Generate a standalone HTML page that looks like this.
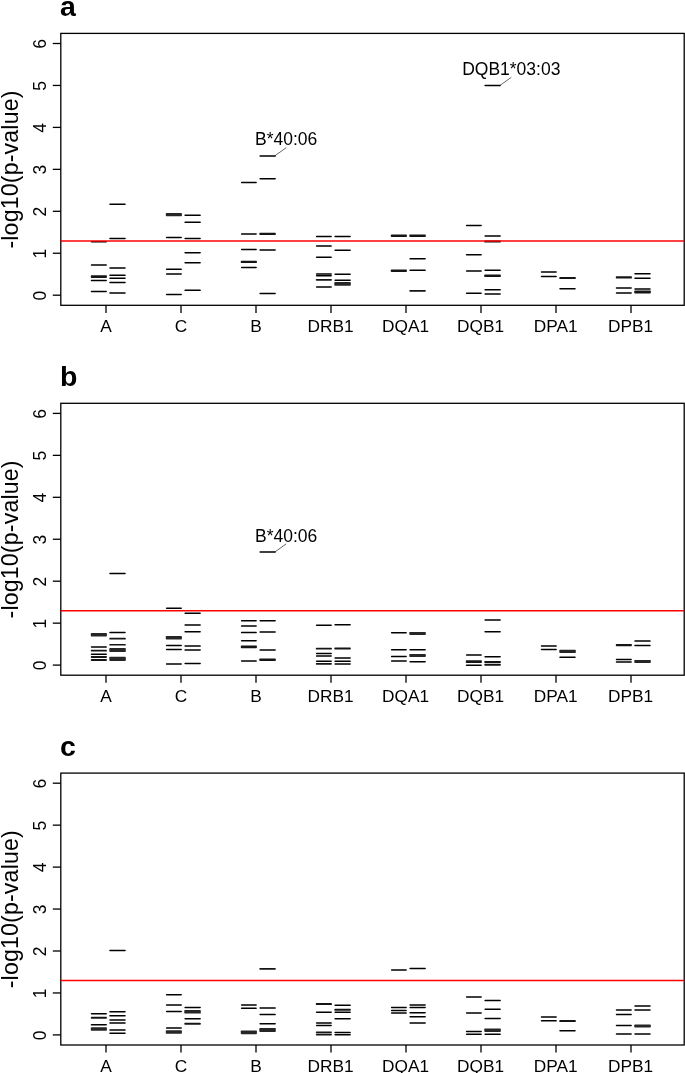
<!DOCTYPE html>
<html><head><meta charset="utf-8"><title>Figure</title>
<style>html,body{margin:0;padding:0;background:#fff;font-family:"Liberation Sans",sans-serif;}svg{display:block;will-change:transform}</style></head>
<body>
<svg width="685" height="1073" viewBox="0 0 685 1073">
<rect width="685" height="1073" fill="#fff"/>
<g>
<text x="60.0" y="15.9" font-family="Liberation Sans, sans-serif" font-size="28.5" font-weight="bold" fill="#000">a</text>
<rect x="60.8" y="33.4" width="623.4" height="271.9" fill="none" stroke="#000" stroke-width="1.3"/>
<line x1="52.8" y1="295.20" x2="60.8" y2="295.20" stroke="#000" stroke-width="1.3"/>
<text transform="translate(45.5,295.60) rotate(-90)" text-anchor="middle" font-family="Liberation Sans, sans-serif" font-size="17.5" fill="#000">0</text>
<line x1="52.8" y1="253.25" x2="60.8" y2="253.25" stroke="#000" stroke-width="1.3"/>
<text transform="translate(45.5,253.65) rotate(-90)" text-anchor="middle" font-family="Liberation Sans, sans-serif" font-size="17.5" fill="#000">1</text>
<line x1="52.8" y1="211.30" x2="60.8" y2="211.30" stroke="#000" stroke-width="1.3"/>
<text transform="translate(45.5,211.70) rotate(-90)" text-anchor="middle" font-family="Liberation Sans, sans-serif" font-size="17.5" fill="#000">2</text>
<line x1="52.8" y1="169.35" x2="60.8" y2="169.35" stroke="#000" stroke-width="1.3"/>
<text transform="translate(45.5,169.75) rotate(-90)" text-anchor="middle" font-family="Liberation Sans, sans-serif" font-size="17.5" fill="#000">3</text>
<line x1="52.8" y1="127.40" x2="60.8" y2="127.40" stroke="#000" stroke-width="1.3"/>
<text transform="translate(45.5,127.80) rotate(-90)" text-anchor="middle" font-family="Liberation Sans, sans-serif" font-size="17.5" fill="#000">4</text>
<line x1="52.8" y1="85.45" x2="60.8" y2="85.45" stroke="#000" stroke-width="1.3"/>
<text transform="translate(45.5,85.85) rotate(-90)" text-anchor="middle" font-family="Liberation Sans, sans-serif" font-size="17.5" fill="#000">5</text>
<line x1="52.8" y1="43.50" x2="60.8" y2="43.50" stroke="#000" stroke-width="1.3"/>
<text transform="translate(45.5,43.90) rotate(-90)" text-anchor="middle" font-family="Liberation Sans, sans-serif" font-size="17.5" fill="#000">6</text>
<text transform="translate(17.6,169.50) rotate(-90)" text-anchor="middle" font-family="Liberation Sans, sans-serif" font-size="23.2" letter-spacing="0.15" fill="#000">-log10(p-value)</text>
<line x1="106.0" y1="305.30" x2="106.0" y2="312.90" stroke="#000" stroke-width="1.3"/>
<text x="106.0" y="331.80" text-anchor="middle" font-family="Liberation Sans, sans-serif" font-size="17.3" fill="#000">A</text>
<line x1="181.0" y1="305.30" x2="181.0" y2="312.90" stroke="#000" stroke-width="1.3"/>
<text x="181.0" y="331.80" text-anchor="middle" font-family="Liberation Sans, sans-serif" font-size="17.3" fill="#000">C</text>
<line x1="256.0" y1="305.30" x2="256.0" y2="312.90" stroke="#000" stroke-width="1.3"/>
<text x="256.0" y="331.80" text-anchor="middle" font-family="Liberation Sans, sans-serif" font-size="17.3" fill="#000">B</text>
<line x1="331.0" y1="305.30" x2="331.0" y2="312.90" stroke="#000" stroke-width="1.3"/>
<text x="330.6" y="331.80" text-anchor="middle" font-family="Liberation Sans, sans-serif" font-size="17.3" fill="#000">DRB1</text>
<line x1="406.0" y1="305.30" x2="406.0" y2="312.90" stroke="#000" stroke-width="1.3"/>
<text x="405.6" y="331.80" text-anchor="middle" font-family="Liberation Sans, sans-serif" font-size="17.3" fill="#000">DQA1</text>
<line x1="481.0" y1="305.30" x2="481.0" y2="312.90" stroke="#000" stroke-width="1.3"/>
<text x="480.6" y="331.80" text-anchor="middle" font-family="Liberation Sans, sans-serif" font-size="17.3" fill="#000">DQB1</text>
<line x1="556.0" y1="305.30" x2="556.0" y2="312.90" stroke="#000" stroke-width="1.3"/>
<text x="555.6" y="331.80" text-anchor="middle" font-family="Liberation Sans, sans-serif" font-size="17.3" fill="#000">DPA1</text>
<line x1="631.0" y1="305.30" x2="631.0" y2="312.90" stroke="#000" stroke-width="1.3"/>
<text x="630.6" y="331.80" text-anchor="middle" font-family="Liberation Sans, sans-serif" font-size="17.3" fill="#000">DPB1</text>
<line x1="91.5" y1="241.70" x2="106.2" y2="241.70" stroke="#000" stroke-width="1.50" stroke-linecap="round"/>
<line x1="91.5" y1="264.90" x2="106.2" y2="264.90" stroke="#000" stroke-width="1.50" stroke-linecap="round"/>
<rect x="90.8" y="275.30" width="16.1" height="2.60" rx="0.7" fill="#151515"/>
<line x1="91.5" y1="280.40" x2="106.2" y2="280.40" stroke="#000" stroke-width="1.50" stroke-linecap="round"/>
<line x1="91.5" y1="291.40" x2="106.2" y2="291.40" stroke="#000" stroke-width="1.50" stroke-linecap="round"/>
<line x1="110.0" y1="204.20" x2="125.0" y2="204.20" stroke="#000" stroke-width="1.50" stroke-linecap="round"/>
<line x1="110.0" y1="238.40" x2="125.0" y2="238.40" stroke="#000" stroke-width="1.50" stroke-linecap="round"/>
<line x1="110.0" y1="268.00" x2="125.0" y2="268.00" stroke="#000" stroke-width="1.50" stroke-linecap="round"/>
<line x1="110.0" y1="275.20" x2="125.0" y2="275.20" stroke="#000" stroke-width="1.50" stroke-linecap="round"/>
<line x1="110.0" y1="278.20" x2="125.0" y2="278.20" stroke="#000" stroke-width="1.50" stroke-linecap="round"/>
<line x1="110.0" y1="282.40" x2="125.0" y2="282.40" stroke="#000" stroke-width="1.50" stroke-linecap="round"/>
<line x1="110.0" y1="292.90" x2="125.0" y2="292.90" stroke="#000" stroke-width="1.50" stroke-linecap="round"/>
<rect x="165.8" y="213.10" width="16.1" height="3.20" rx="0.7" fill="#262626"/>
<line x1="166.6" y1="237.50" x2="181.2" y2="237.50" stroke="#000" stroke-width="1.50" stroke-linecap="round"/>
<line x1="166.6" y1="269.30" x2="181.2" y2="269.30" stroke="#000" stroke-width="1.50" stroke-linecap="round"/>
<line x1="166.6" y1="273.90" x2="181.2" y2="273.90" stroke="#000" stroke-width="1.50" stroke-linecap="round"/>
<line x1="166.6" y1="294.40" x2="181.2" y2="294.40" stroke="#000" stroke-width="1.50" stroke-linecap="round"/>
<line x1="185.1" y1="215.20" x2="200.1" y2="215.20" stroke="#000" stroke-width="1.50" stroke-linecap="round"/>
<line x1="185.1" y1="222.20" x2="200.1" y2="222.20" stroke="#000" stroke-width="1.50" stroke-linecap="round"/>
<line x1="185.1" y1="238.40" x2="200.1" y2="238.40" stroke="#000" stroke-width="1.50" stroke-linecap="round"/>
<line x1="185.1" y1="252.80" x2="200.1" y2="252.80" stroke="#000" stroke-width="1.50" stroke-linecap="round"/>
<line x1="185.1" y1="262.70" x2="200.1" y2="262.70" stroke="#000" stroke-width="1.50" stroke-linecap="round"/>
<line x1="185.1" y1="290.30" x2="200.1" y2="290.30" stroke="#000" stroke-width="1.50" stroke-linecap="round"/>
<line x1="241.6" y1="182.60" x2="256.1" y2="182.60" stroke="#000" stroke-width="1.50" stroke-linecap="round"/>
<line x1="241.6" y1="234.10" x2="256.1" y2="234.10" stroke="#000" stroke-width="1.50" stroke-linecap="round"/>
<line x1="241.6" y1="249.40" x2="256.1" y2="249.40" stroke="#000" stroke-width="1.50" stroke-linecap="round"/>
<rect x="240.8" y="260.70" width="16.1" height="2.40" rx="0.7" fill="#151515"/>
<line x1="241.6" y1="267.40" x2="256.1" y2="267.40" stroke="#000" stroke-width="1.50" stroke-linecap="round"/>
<line x1="260.1" y1="155.90" x2="275.1" y2="155.90" stroke="#000" stroke-width="1.50" stroke-linecap="round"/>
<line x1="260.1" y1="178.70" x2="275.1" y2="178.70" stroke="#000" stroke-width="1.50" stroke-linecap="round"/>
<rect x="259.3" y="232.80" width="16.5" height="2.20" rx="0.7" fill="#151515"/>
<line x1="260.1" y1="250.10" x2="275.1" y2="250.10" stroke="#000" stroke-width="1.50" stroke-linecap="round"/>
<line x1="260.1" y1="293.60" x2="275.1" y2="293.60" stroke="#000" stroke-width="1.50" stroke-linecap="round"/>
<line x1="316.6" y1="236.60" x2="331.1" y2="236.60" stroke="#000" stroke-width="1.50" stroke-linecap="round"/>
<line x1="316.6" y1="246.00" x2="331.1" y2="246.00" stroke="#000" stroke-width="1.50" stroke-linecap="round"/>
<line x1="316.6" y1="257.20" x2="331.1" y2="257.20" stroke="#000" stroke-width="1.50" stroke-linecap="round"/>
<line x1="316.6" y1="274.10" x2="331.1" y2="274.10" stroke="#000" stroke-width="1.50" stroke-linecap="round"/>
<line x1="316.6" y1="275.80" x2="331.1" y2="275.80" stroke="#000" stroke-width="1.50" stroke-linecap="round"/>
<rect x="315.8" y="278.90" width="16.1" height="1.80" rx="0.7" fill="#151515"/>
<line x1="316.6" y1="286.90" x2="331.1" y2="286.90" stroke="#000" stroke-width="1.50" stroke-linecap="round"/>
<line x1="335.1" y1="236.60" x2="350.1" y2="236.60" stroke="#000" stroke-width="1.50" stroke-linecap="round"/>
<line x1="335.1" y1="250.30" x2="350.1" y2="250.30" stroke="#000" stroke-width="1.50" stroke-linecap="round"/>
<line x1="335.1" y1="274.20" x2="350.1" y2="274.20" stroke="#000" stroke-width="1.50" stroke-linecap="round"/>
<line x1="335.1" y1="280.20" x2="350.1" y2="280.20" stroke="#000" stroke-width="1.50" stroke-linecap="round"/>
<rect x="334.3" y="282.10" width="16.5" height="3.60" rx="0.7" fill="#262626"/>
<rect x="390.8" y="234.40" width="16.1" height="2.60" rx="0.7" fill="#151515"/>
<rect x="390.8" y="269.50" width="16.1" height="2.40" rx="0.7" fill="#151515"/>
<rect x="409.3" y="234.40" width="16.5" height="2.60" rx="0.7" fill="#151515"/>
<line x1="410.1" y1="258.70" x2="425.1" y2="258.70" stroke="#000" stroke-width="1.50" stroke-linecap="round"/>
<line x1="410.1" y1="270.30" x2="425.1" y2="270.30" stroke="#000" stroke-width="1.50" stroke-linecap="round"/>
<rect x="409.3" y="290.00" width="16.5" height="1.80" rx="0.7" fill="#151515"/>
<line x1="466.6" y1="225.60" x2="481.1" y2="225.60" stroke="#000" stroke-width="1.50" stroke-linecap="round"/>
<line x1="466.6" y1="254.70" x2="481.1" y2="254.70" stroke="#000" stroke-width="1.50" stroke-linecap="round"/>
<line x1="466.6" y1="270.90" x2="481.1" y2="270.90" stroke="#000" stroke-width="1.50" stroke-linecap="round"/>
<line x1="466.6" y1="293.30" x2="481.1" y2="293.30" stroke="#000" stroke-width="1.50" stroke-linecap="round"/>
<line x1="485.1" y1="85.50" x2="500.1" y2="85.50" stroke="#000" stroke-width="1.50" stroke-linecap="round"/>
<line x1="485.1" y1="235.90" x2="500.1" y2="235.90" stroke="#000" stroke-width="1.50" stroke-linecap="round"/>
<rect x="484.3" y="240.60" width="16.5" height="2.00" rx="0.7" fill="#151515"/>
<line x1="485.1" y1="270.30" x2="500.1" y2="270.30" stroke="#000" stroke-width="1.50" stroke-linecap="round"/>
<rect x="484.3" y="274.50" width="16.5" height="2.60" rx="0.7" fill="#151515"/>
<line x1="485.1" y1="289.80" x2="500.1" y2="289.80" stroke="#000" stroke-width="1.50" stroke-linecap="round"/>
<line x1="485.1" y1="293.90" x2="500.1" y2="293.90" stroke="#000" stroke-width="1.50" stroke-linecap="round"/>
<line x1="541.5" y1="271.90" x2="556.1" y2="271.90" stroke="#000" stroke-width="1.50" stroke-linecap="round"/>
<line x1="541.5" y1="276.50" x2="556.1" y2="276.50" stroke="#000" stroke-width="1.50" stroke-linecap="round"/>
<rect x="559.3" y="277.10" width="16.5" height="2.00" rx="0.7" fill="#151515"/>
<line x1="560.0" y1="288.80" x2="575.0" y2="288.80" stroke="#000" stroke-width="1.50" stroke-linecap="round"/>
<rect x="615.8" y="276.20" width="16.1" height="2.40" rx="0.7" fill="#151515"/>
<line x1="616.5" y1="288.00" x2="631.1" y2="288.00" stroke="#000" stroke-width="1.50" stroke-linecap="round"/>
<line x1="616.5" y1="292.90" x2="631.1" y2="292.90" stroke="#000" stroke-width="1.50" stroke-linecap="round"/>
<line x1="635.0" y1="273.80" x2="650.0" y2="273.80" stroke="#000" stroke-width="1.50" stroke-linecap="round"/>
<line x1="635.0" y1="278.30" x2="650.0" y2="278.30" stroke="#000" stroke-width="1.50" stroke-linecap="round"/>
<line x1="635.0" y1="288.90" x2="650.0" y2="288.90" stroke="#000" stroke-width="1.50" stroke-linecap="round"/>
<rect x="634.3" y="290.60" width="16.5" height="2.80" rx="0.7" fill="#151515"/>
<line x1="60.8" y1="240.90" x2="684.2" y2="240.90" stroke="#f00" stroke-width="1.5"/>
</g>
<g>
<text x="60.0" y="385.8" font-family="Liberation Sans, sans-serif" font-size="28.5" font-weight="bold" fill="#000">b</text>
<rect x="60.8" y="403.3" width="623.4" height="271.9" fill="none" stroke="#000" stroke-width="1.3"/>
<line x1="52.8" y1="665.10" x2="60.8" y2="665.10" stroke="#000" stroke-width="1.3"/>
<text transform="translate(45.5,665.50) rotate(-90)" text-anchor="middle" font-family="Liberation Sans, sans-serif" font-size="17.5" fill="#000">0</text>
<line x1="52.8" y1="623.15" x2="60.8" y2="623.15" stroke="#000" stroke-width="1.3"/>
<text transform="translate(45.5,623.55) rotate(-90)" text-anchor="middle" font-family="Liberation Sans, sans-serif" font-size="17.5" fill="#000">1</text>
<line x1="52.8" y1="581.20" x2="60.8" y2="581.20" stroke="#000" stroke-width="1.3"/>
<text transform="translate(45.5,581.60) rotate(-90)" text-anchor="middle" font-family="Liberation Sans, sans-serif" font-size="17.5" fill="#000">2</text>
<line x1="52.8" y1="539.25" x2="60.8" y2="539.25" stroke="#000" stroke-width="1.3"/>
<text transform="translate(45.5,539.65) rotate(-90)" text-anchor="middle" font-family="Liberation Sans, sans-serif" font-size="17.5" fill="#000">3</text>
<line x1="52.8" y1="497.30" x2="60.8" y2="497.30" stroke="#000" stroke-width="1.3"/>
<text transform="translate(45.5,497.70) rotate(-90)" text-anchor="middle" font-family="Liberation Sans, sans-serif" font-size="17.5" fill="#000">4</text>
<line x1="52.8" y1="455.35" x2="60.8" y2="455.35" stroke="#000" stroke-width="1.3"/>
<text transform="translate(45.5,455.75) rotate(-90)" text-anchor="middle" font-family="Liberation Sans, sans-serif" font-size="17.5" fill="#000">5</text>
<line x1="52.8" y1="413.40" x2="60.8" y2="413.40" stroke="#000" stroke-width="1.3"/>
<text transform="translate(45.5,413.80) rotate(-90)" text-anchor="middle" font-family="Liberation Sans, sans-serif" font-size="17.5" fill="#000">6</text>
<text transform="translate(17.6,539.40) rotate(-90)" text-anchor="middle" font-family="Liberation Sans, sans-serif" font-size="23.2" letter-spacing="0.15" fill="#000">-log10(p-value)</text>
<line x1="106.0" y1="675.20" x2="106.0" y2="682.80" stroke="#000" stroke-width="1.3"/>
<text x="106.0" y="701.70" text-anchor="middle" font-family="Liberation Sans, sans-serif" font-size="17.3" fill="#000">A</text>
<line x1="181.0" y1="675.20" x2="181.0" y2="682.80" stroke="#000" stroke-width="1.3"/>
<text x="181.0" y="701.70" text-anchor="middle" font-family="Liberation Sans, sans-serif" font-size="17.3" fill="#000">C</text>
<line x1="256.0" y1="675.20" x2="256.0" y2="682.80" stroke="#000" stroke-width="1.3"/>
<text x="256.0" y="701.70" text-anchor="middle" font-family="Liberation Sans, sans-serif" font-size="17.3" fill="#000">B</text>
<line x1="331.0" y1="675.20" x2="331.0" y2="682.80" stroke="#000" stroke-width="1.3"/>
<text x="330.6" y="701.70" text-anchor="middle" font-family="Liberation Sans, sans-serif" font-size="17.3" fill="#000">DRB1</text>
<line x1="406.0" y1="675.20" x2="406.0" y2="682.80" stroke="#000" stroke-width="1.3"/>
<text x="405.6" y="701.70" text-anchor="middle" font-family="Liberation Sans, sans-serif" font-size="17.3" fill="#000">DQA1</text>
<line x1="481.0" y1="675.20" x2="481.0" y2="682.80" stroke="#000" stroke-width="1.3"/>
<text x="480.6" y="701.70" text-anchor="middle" font-family="Liberation Sans, sans-serif" font-size="17.3" fill="#000">DQB1</text>
<line x1="556.0" y1="675.20" x2="556.0" y2="682.80" stroke="#000" stroke-width="1.3"/>
<text x="555.6" y="701.70" text-anchor="middle" font-family="Liberation Sans, sans-serif" font-size="17.3" fill="#000">DPA1</text>
<line x1="631.0" y1="675.20" x2="631.0" y2="682.80" stroke="#000" stroke-width="1.3"/>
<text x="630.6" y="701.70" text-anchor="middle" font-family="Liberation Sans, sans-serif" font-size="17.3" fill="#000">DPB1</text>
<rect x="90.8" y="633.00" width="16.1" height="3.50" rx="0.7" fill="#262626"/>
<line x1="91.5" y1="647.10" x2="106.2" y2="647.10" stroke="#000" stroke-width="1.50" stroke-linecap="round"/>
<rect x="90.8" y="649.80" width="16.1" height="1.80" rx="0.7" fill="#151515"/>
<line x1="91.5" y1="654.30" x2="106.2" y2="654.30" stroke="#000" stroke-width="1.50" stroke-linecap="round"/>
<rect x="90.8" y="656.10" width="16.1" height="1.80" rx="0.7" fill="#151515"/>
<rect x="90.8" y="658.90" width="16.1" height="2.00" rx="0.7" fill="#151515"/>
<line x1="110.0" y1="573.60" x2="125.0" y2="573.60" stroke="#000" stroke-width="1.50" stroke-linecap="round"/>
<line x1="110.0" y1="632.40" x2="125.0" y2="632.40" stroke="#000" stroke-width="1.50" stroke-linecap="round"/>
<rect x="109.3" y="637.80" width="16.5" height="1.80" rx="0.7" fill="#151515"/>
<rect x="109.3" y="644.00" width="16.5" height="1.60" rx="0.7" fill="#151515"/>
<rect x="109.3" y="648.00" width="16.5" height="4.00" rx="0.7" fill="#262626"/>
<rect x="109.3" y="656.80" width="16.5" height="4.10" rx="0.7" fill="#262626"/>
<line x1="166.6" y1="608.20" x2="181.2" y2="608.20" stroke="#000" stroke-width="1.50" stroke-linecap="round"/>
<rect x="165.8" y="635.90" width="16.1" height="3.60" rx="0.7" fill="#262626"/>
<line x1="166.6" y1="645.40" x2="181.2" y2="645.40" stroke="#000" stroke-width="1.50" stroke-linecap="round"/>
<line x1="166.6" y1="649.60" x2="181.2" y2="649.60" stroke="#000" stroke-width="1.50" stroke-linecap="round"/>
<line x1="166.6" y1="664.00" x2="181.2" y2="664.00" stroke="#000" stroke-width="1.50" stroke-linecap="round"/>
<line x1="185.1" y1="613.20" x2="200.1" y2="613.20" stroke="#000" stroke-width="1.50" stroke-linecap="round"/>
<line x1="185.1" y1="625.00" x2="200.1" y2="625.00" stroke="#000" stroke-width="1.50" stroke-linecap="round"/>
<line x1="185.1" y1="631.80" x2="200.1" y2="631.80" stroke="#000" stroke-width="1.50" stroke-linecap="round"/>
<line x1="185.1" y1="646.10" x2="200.1" y2="646.10" stroke="#000" stroke-width="1.50" stroke-linecap="round"/>
<line x1="185.1" y1="650.00" x2="200.1" y2="650.00" stroke="#000" stroke-width="1.50" stroke-linecap="round"/>
<line x1="185.1" y1="663.60" x2="200.1" y2="663.60" stroke="#000" stroke-width="1.50" stroke-linecap="round"/>
<line x1="241.6" y1="620.80" x2="256.1" y2="620.80" stroke="#000" stroke-width="1.50" stroke-linecap="round"/>
<line x1="241.6" y1="625.90" x2="256.1" y2="625.90" stroke="#000" stroke-width="1.50" stroke-linecap="round"/>
<line x1="241.6" y1="632.40" x2="256.1" y2="632.40" stroke="#000" stroke-width="1.50" stroke-linecap="round"/>
<line x1="241.6" y1="640.80" x2="256.1" y2="640.80" stroke="#000" stroke-width="1.50" stroke-linecap="round"/>
<rect x="240.8" y="645.40" width="16.1" height="2.80" rx="0.7" fill="#151515"/>
<line x1="241.6" y1="660.90" x2="256.1" y2="660.90" stroke="#000" stroke-width="1.50" stroke-linecap="round"/>
<line x1="260.1" y1="552.10" x2="275.1" y2="552.10" stroke="#000" stroke-width="1.50" stroke-linecap="round"/>
<line x1="260.1" y1="620.80" x2="275.1" y2="620.80" stroke="#000" stroke-width="1.50" stroke-linecap="round"/>
<line x1="260.1" y1="632.00" x2="275.1" y2="632.00" stroke="#000" stroke-width="1.50" stroke-linecap="round"/>
<line x1="260.1" y1="650.00" x2="275.1" y2="650.00" stroke="#000" stroke-width="1.50" stroke-linecap="round"/>
<rect x="259.3" y="658.45" width="16.5" height="2.50" rx="0.7" fill="#151515"/>
<line x1="316.6" y1="625.20" x2="331.1" y2="625.20" stroke="#000" stroke-width="1.50" stroke-linecap="round"/>
<rect x="315.8" y="647.80" width="16.1" height="1.80" rx="0.7" fill="#151515"/>
<line x1="316.6" y1="653.60" x2="331.1" y2="653.60" stroke="#000" stroke-width="1.50" stroke-linecap="round"/>
<line x1="316.6" y1="656.10" x2="331.1" y2="656.10" stroke="#000" stroke-width="1.50" stroke-linecap="round"/>
<line x1="316.6" y1="661.20" x2="331.1" y2="661.20" stroke="#000" stroke-width="1.50" stroke-linecap="round"/>
<rect x="315.8" y="663.10" width="16.1" height="1.60" rx="0.7" fill="#151515"/>
<line x1="335.1" y1="624.80" x2="350.1" y2="624.80" stroke="#000" stroke-width="1.50" stroke-linecap="round"/>
<rect x="334.3" y="647.60" width="16.5" height="1.80" rx="0.7" fill="#151515"/>
<line x1="335.1" y1="657.90" x2="350.1" y2="657.90" stroke="#000" stroke-width="1.50" stroke-linecap="round"/>
<line x1="335.1" y1="661.20" x2="350.1" y2="661.20" stroke="#000" stroke-width="1.50" stroke-linecap="round"/>
<line x1="335.1" y1="663.90" x2="350.1" y2="663.90" stroke="#000" stroke-width="1.50" stroke-linecap="round"/>
<line x1="391.6" y1="632.80" x2="406.1" y2="632.80" stroke="#000" stroke-width="1.50" stroke-linecap="round"/>
<line x1="391.6" y1="649.70" x2="406.1" y2="649.70" stroke="#000" stroke-width="1.50" stroke-linecap="round"/>
<line x1="391.6" y1="656.40" x2="406.1" y2="656.40" stroke="#000" stroke-width="1.50" stroke-linecap="round"/>
<line x1="391.6" y1="660.90" x2="406.1" y2="660.90" stroke="#000" stroke-width="1.50" stroke-linecap="round"/>
<rect x="409.3" y="631.90" width="16.5" height="3.00" rx="0.7" fill="#262626"/>
<line x1="410.1" y1="649.70" x2="425.1" y2="649.70" stroke="#000" stroke-width="1.50" stroke-linecap="round"/>
<rect x="409.3" y="653.90" width="16.5" height="3.00" rx="0.7" fill="#262626"/>
<line x1="410.1" y1="661.70" x2="425.1" y2="661.70" stroke="#000" stroke-width="1.50" stroke-linecap="round"/>
<line x1="466.6" y1="655.00" x2="481.1" y2="655.00" stroke="#000" stroke-width="1.50" stroke-linecap="round"/>
<rect x="465.8" y="660.20" width="16.1" height="2.80" rx="0.7" fill="#151515"/>
<line x1="466.6" y1="665.30" x2="481.1" y2="665.30" stroke="#000" stroke-width="1.50" stroke-linecap="round"/>
<line x1="485.1" y1="619.90" x2="500.1" y2="619.90" stroke="#000" stroke-width="1.50" stroke-linecap="round"/>
<line x1="485.1" y1="631.70" x2="500.1" y2="631.70" stroke="#000" stroke-width="1.50" stroke-linecap="round"/>
<line x1="485.1" y1="656.70" x2="500.1" y2="656.70" stroke="#000" stroke-width="1.50" stroke-linecap="round"/>
<rect x="484.3" y="660.90" width="16.5" height="2.20" rx="0.7" fill="#151515"/>
<rect x="484.3" y="663.70" width="16.5" height="2.00" rx="0.7" fill="#151515"/>
<line x1="541.5" y1="646.00" x2="556.1" y2="646.00" stroke="#000" stroke-width="1.50" stroke-linecap="round"/>
<line x1="541.5" y1="649.60" x2="556.1" y2="649.60" stroke="#000" stroke-width="1.50" stroke-linecap="round"/>
<rect x="559.3" y="649.80" width="16.5" height="3.20" rx="0.7" fill="#262626"/>
<line x1="560.0" y1="657.20" x2="575.0" y2="657.20" stroke="#000" stroke-width="1.50" stroke-linecap="round"/>
<rect x="615.8" y="644.00" width="16.1" height="2.20" rx="0.7" fill="#151515"/>
<line x1="616.5" y1="659.50" x2="631.1" y2="659.50" stroke="#000" stroke-width="1.50" stroke-linecap="round"/>
<line x1="616.5" y1="662.00" x2="631.1" y2="662.00" stroke="#000" stroke-width="1.50" stroke-linecap="round"/>
<line x1="635.0" y1="640.90" x2="650.0" y2="640.90" stroke="#000" stroke-width="1.50" stroke-linecap="round"/>
<line x1="635.0" y1="645.50" x2="650.0" y2="645.50" stroke="#000" stroke-width="1.50" stroke-linecap="round"/>
<rect x="634.3" y="659.90" width="16.5" height="3.00" rx="0.7" fill="#262626"/>
<line x1="60.8" y1="610.80" x2="684.2" y2="610.80" stroke="#f00" stroke-width="1.5"/>
</g>
<g>
<text x="60.0" y="755.6" font-family="Liberation Sans, sans-serif" font-size="28.5" font-weight="bold" fill="#000">c</text>
<rect x="60.8" y="773.1" width="623.4" height="271.9" fill="none" stroke="#000" stroke-width="1.3"/>
<line x1="52.8" y1="1034.90" x2="60.8" y2="1034.90" stroke="#000" stroke-width="1.3"/>
<text transform="translate(45.5,1035.30) rotate(-90)" text-anchor="middle" font-family="Liberation Sans, sans-serif" font-size="17.5" fill="#000">0</text>
<line x1="52.8" y1="992.95" x2="60.8" y2="992.95" stroke="#000" stroke-width="1.3"/>
<text transform="translate(45.5,993.35) rotate(-90)" text-anchor="middle" font-family="Liberation Sans, sans-serif" font-size="17.5" fill="#000">1</text>
<line x1="52.8" y1="951.00" x2="60.8" y2="951.00" stroke="#000" stroke-width="1.3"/>
<text transform="translate(45.5,951.40) rotate(-90)" text-anchor="middle" font-family="Liberation Sans, sans-serif" font-size="17.5" fill="#000">2</text>
<line x1="52.8" y1="909.05" x2="60.8" y2="909.05" stroke="#000" stroke-width="1.3"/>
<text transform="translate(45.5,909.45) rotate(-90)" text-anchor="middle" font-family="Liberation Sans, sans-serif" font-size="17.5" fill="#000">3</text>
<line x1="52.8" y1="867.10" x2="60.8" y2="867.10" stroke="#000" stroke-width="1.3"/>
<text transform="translate(45.5,867.50) rotate(-90)" text-anchor="middle" font-family="Liberation Sans, sans-serif" font-size="17.5" fill="#000">4</text>
<line x1="52.8" y1="825.15" x2="60.8" y2="825.15" stroke="#000" stroke-width="1.3"/>
<text transform="translate(45.5,825.55) rotate(-90)" text-anchor="middle" font-family="Liberation Sans, sans-serif" font-size="17.5" fill="#000">5</text>
<line x1="52.8" y1="783.20" x2="60.8" y2="783.20" stroke="#000" stroke-width="1.3"/>
<text transform="translate(45.5,783.60) rotate(-90)" text-anchor="middle" font-family="Liberation Sans, sans-serif" font-size="17.5" fill="#000">6</text>
<text transform="translate(17.6,909.20) rotate(-90)" text-anchor="middle" font-family="Liberation Sans, sans-serif" font-size="23.2" letter-spacing="0.15" fill="#000">-log10(p-value)</text>
<line x1="106.0" y1="1045.00" x2="106.0" y2="1052.60" stroke="#000" stroke-width="1.3"/>
<text x="106.0" y="1071.50" text-anchor="middle" font-family="Liberation Sans, sans-serif" font-size="17.3" fill="#000">A</text>
<line x1="181.0" y1="1045.00" x2="181.0" y2="1052.60" stroke="#000" stroke-width="1.3"/>
<text x="181.0" y="1071.50" text-anchor="middle" font-family="Liberation Sans, sans-serif" font-size="17.3" fill="#000">C</text>
<line x1="256.0" y1="1045.00" x2="256.0" y2="1052.60" stroke="#000" stroke-width="1.3"/>
<text x="256.0" y="1071.50" text-anchor="middle" font-family="Liberation Sans, sans-serif" font-size="17.3" fill="#000">B</text>
<line x1="331.0" y1="1045.00" x2="331.0" y2="1052.60" stroke="#000" stroke-width="1.3"/>
<text x="330.6" y="1071.50" text-anchor="middle" font-family="Liberation Sans, sans-serif" font-size="17.3" fill="#000">DRB1</text>
<line x1="406.0" y1="1045.00" x2="406.0" y2="1052.60" stroke="#000" stroke-width="1.3"/>
<text x="405.6" y="1071.50" text-anchor="middle" font-family="Liberation Sans, sans-serif" font-size="17.3" fill="#000">DQA1</text>
<line x1="481.0" y1="1045.00" x2="481.0" y2="1052.60" stroke="#000" stroke-width="1.3"/>
<text x="480.6" y="1071.50" text-anchor="middle" font-family="Liberation Sans, sans-serif" font-size="17.3" fill="#000">DQB1</text>
<line x1="556.0" y1="1045.00" x2="556.0" y2="1052.60" stroke="#000" stroke-width="1.3"/>
<text x="555.6" y="1071.50" text-anchor="middle" font-family="Liberation Sans, sans-serif" font-size="17.3" fill="#000">DPA1</text>
<line x1="631.0" y1="1045.00" x2="631.0" y2="1052.60" stroke="#000" stroke-width="1.3"/>
<text x="630.6" y="1071.50" text-anchor="middle" font-family="Liberation Sans, sans-serif" font-size="17.3" fill="#000">DPB1</text>
<line x1="91.5" y1="1013.80" x2="106.2" y2="1013.80" stroke="#000" stroke-width="1.50" stroke-linecap="round"/>
<rect x="90.8" y="1016.80" width="16.1" height="2.00" rx="0.7" fill="#151515"/>
<line x1="91.5" y1="1024.70" x2="106.2" y2="1024.70" stroke="#000" stroke-width="1.50" stroke-linecap="round"/>
<rect x="90.8" y="1027.20" width="16.1" height="3.60" rx="0.7" fill="#262626"/>
<line x1="110.0" y1="950.40" x2="125.0" y2="950.40" stroke="#000" stroke-width="1.50" stroke-linecap="round"/>
<line x1="110.0" y1="1011.80" x2="125.0" y2="1011.80" stroke="#000" stroke-width="1.50" stroke-linecap="round"/>
<line x1="110.0" y1="1015.70" x2="125.0" y2="1015.70" stroke="#000" stroke-width="1.50" stroke-linecap="round"/>
<line x1="110.0" y1="1019.90" x2="125.0" y2="1019.90" stroke="#000" stroke-width="1.50" stroke-linecap="round"/>
<line x1="110.0" y1="1023.00" x2="125.0" y2="1023.00" stroke="#000" stroke-width="1.50" stroke-linecap="round"/>
<line x1="110.0" y1="1030.00" x2="125.0" y2="1030.00" stroke="#000" stroke-width="1.50" stroke-linecap="round"/>
<line x1="110.0" y1="1033.20" x2="125.0" y2="1033.20" stroke="#000" stroke-width="1.50" stroke-linecap="round"/>
<line x1="166.6" y1="994.70" x2="181.2" y2="994.70" stroke="#000" stroke-width="1.50" stroke-linecap="round"/>
<line x1="166.6" y1="1004.90" x2="181.2" y2="1004.90" stroke="#000" stroke-width="1.50" stroke-linecap="round"/>
<line x1="166.6" y1="1011.60" x2="181.2" y2="1011.60" stroke="#000" stroke-width="1.50" stroke-linecap="round"/>
<line x1="166.6" y1="1027.90" x2="181.2" y2="1027.90" stroke="#000" stroke-width="1.50" stroke-linecap="round"/>
<rect x="165.8" y="1030.20" width="16.1" height="3.60" rx="0.7" fill="#262626"/>
<line x1="185.1" y1="1007.40" x2="200.1" y2="1007.40" stroke="#000" stroke-width="1.50" stroke-linecap="round"/>
<rect x="184.3" y="1010.00" width="16.5" height="3.60" rx="0.7" fill="#262626"/>
<line x1="185.1" y1="1018.80" x2="200.1" y2="1018.80" stroke="#000" stroke-width="1.50" stroke-linecap="round"/>
<rect x="184.3" y="1022.70" width="16.5" height="2.00" rx="0.7" fill="#151515"/>
<line x1="241.6" y1="1005.10" x2="256.1" y2="1005.10" stroke="#000" stroke-width="1.50" stroke-linecap="round"/>
<line x1="241.6" y1="1008.30" x2="256.1" y2="1008.30" stroke="#000" stroke-width="1.50" stroke-linecap="round"/>
<rect x="240.8" y="1030.50" width="16.1" height="3.80" rx="0.7" fill="#262626"/>
<rect x="259.3" y="968.10" width="16.5" height="1.60" rx="0.7" fill="#151515"/>
<line x1="260.1" y1="1008.10" x2="275.1" y2="1008.10" stroke="#000" stroke-width="1.50" stroke-linecap="round"/>
<line x1="260.1" y1="1014.60" x2="275.1" y2="1014.60" stroke="#000" stroke-width="1.50" stroke-linecap="round"/>
<line x1="260.1" y1="1023.70" x2="275.1" y2="1023.70" stroke="#000" stroke-width="1.50" stroke-linecap="round"/>
<rect x="259.3" y="1028.10" width="16.5" height="3.80" rx="0.7" fill="#262626"/>
<rect x="315.8" y="1003.10" width="16.1" height="2.00" rx="0.7" fill="#151515"/>
<line x1="316.6" y1="1012.30" x2="331.1" y2="1012.30" stroke="#000" stroke-width="1.50" stroke-linecap="round"/>
<line x1="316.6" y1="1023.10" x2="331.1" y2="1023.10" stroke="#000" stroke-width="1.50" stroke-linecap="round"/>
<line x1="316.6" y1="1025.60" x2="331.1" y2="1025.60" stroke="#000" stroke-width="1.50" stroke-linecap="round"/>
<rect x="315.8" y="1031.50" width="16.1" height="1.80" rx="0.7" fill="#151515"/>
<rect x="315.8" y="1033.70" width="16.1" height="1.80" rx="0.7" fill="#151515"/>
<line x1="335.1" y1="1005.30" x2="350.1" y2="1005.30" stroke="#000" stroke-width="1.50" stroke-linecap="round"/>
<rect x="334.3" y="1008.80" width="16.5" height="2.00" rx="0.7" fill="#151515"/>
<line x1="335.1" y1="1012.30" x2="350.1" y2="1012.30" stroke="#000" stroke-width="1.50" stroke-linecap="round"/>
<line x1="335.1" y1="1018.80" x2="350.1" y2="1018.80" stroke="#000" stroke-width="1.50" stroke-linecap="round"/>
<line x1="335.1" y1="1032.40" x2="350.1" y2="1032.40" stroke="#000" stroke-width="1.50" stroke-linecap="round"/>
<line x1="335.1" y1="1034.70" x2="350.1" y2="1034.70" stroke="#000" stroke-width="1.50" stroke-linecap="round"/>
<line x1="391.6" y1="970.00" x2="406.1" y2="970.00" stroke="#000" stroke-width="1.50" stroke-linecap="round"/>
<line x1="391.6" y1="1007.60" x2="406.1" y2="1007.60" stroke="#000" stroke-width="1.50" stroke-linecap="round"/>
<line x1="391.6" y1="1010.40" x2="406.1" y2="1010.40" stroke="#000" stroke-width="1.50" stroke-linecap="round"/>
<line x1="391.6" y1="1012.90" x2="406.1" y2="1012.90" stroke="#000" stroke-width="1.50" stroke-linecap="round"/>
<line x1="410.1" y1="968.50" x2="425.1" y2="968.50" stroke="#000" stroke-width="1.50" stroke-linecap="round"/>
<line x1="410.1" y1="1005.10" x2="425.1" y2="1005.10" stroke="#000" stroke-width="1.50" stroke-linecap="round"/>
<line x1="410.1" y1="1007.60" x2="425.1" y2="1007.60" stroke="#000" stroke-width="1.50" stroke-linecap="round"/>
<line x1="410.1" y1="1012.70" x2="425.1" y2="1012.70" stroke="#000" stroke-width="1.50" stroke-linecap="round"/>
<line x1="410.1" y1="1016.70" x2="425.1" y2="1016.70" stroke="#000" stroke-width="1.50" stroke-linecap="round"/>
<line x1="410.1" y1="1022.90" x2="425.1" y2="1022.90" stroke="#000" stroke-width="1.50" stroke-linecap="round"/>
<line x1="466.6" y1="997.10" x2="481.1" y2="997.10" stroke="#000" stroke-width="1.50" stroke-linecap="round"/>
<line x1="466.6" y1="1013.10" x2="481.1" y2="1013.10" stroke="#000" stroke-width="1.50" stroke-linecap="round"/>
<line x1="466.6" y1="1031.50" x2="481.1" y2="1031.50" stroke="#000" stroke-width="1.50" stroke-linecap="round"/>
<line x1="466.6" y1="1034.30" x2="481.1" y2="1034.30" stroke="#000" stroke-width="1.50" stroke-linecap="round"/>
<line x1="485.1" y1="1000.50" x2="500.1" y2="1000.50" stroke="#000" stroke-width="1.50" stroke-linecap="round"/>
<line x1="485.1" y1="1009.30" x2="500.1" y2="1009.30" stroke="#000" stroke-width="1.50" stroke-linecap="round"/>
<line x1="485.1" y1="1018.40" x2="500.1" y2="1018.40" stroke="#000" stroke-width="1.50" stroke-linecap="round"/>
<rect x="484.3" y="1028.60" width="16.5" height="3.40" rx="0.7" fill="#262626"/>
<line x1="485.1" y1="1034.30" x2="500.1" y2="1034.30" stroke="#000" stroke-width="1.50" stroke-linecap="round"/>
<line x1="541.5" y1="1016.90" x2="556.1" y2="1016.90" stroke="#000" stroke-width="1.50" stroke-linecap="round"/>
<line x1="541.5" y1="1020.70" x2="556.1" y2="1020.70" stroke="#000" stroke-width="1.50" stroke-linecap="round"/>
<rect x="559.3" y="1020.10" width="16.5" height="2.00" rx="0.7" fill="#151515"/>
<line x1="560.0" y1="1030.70" x2="575.0" y2="1030.70" stroke="#000" stroke-width="1.50" stroke-linecap="round"/>
<line x1="616.5" y1="1009.90" x2="631.1" y2="1009.90" stroke="#000" stroke-width="1.50" stroke-linecap="round"/>
<line x1="616.5" y1="1014.40" x2="631.1" y2="1014.40" stroke="#000" stroke-width="1.50" stroke-linecap="round"/>
<line x1="616.5" y1="1025.40" x2="631.1" y2="1025.40" stroke="#000" stroke-width="1.50" stroke-linecap="round"/>
<line x1="616.5" y1="1034.00" x2="631.1" y2="1034.00" stroke="#000" stroke-width="1.50" stroke-linecap="round"/>
<line x1="635.0" y1="1005.90" x2="650.0" y2="1005.90" stroke="#000" stroke-width="1.50" stroke-linecap="round"/>
<line x1="635.0" y1="1009.90" x2="650.0" y2="1009.90" stroke="#000" stroke-width="1.50" stroke-linecap="round"/>
<rect x="634.3" y="1024.50" width="16.5" height="3.00" rx="0.7" fill="#262626"/>
<line x1="635.0" y1="1034.00" x2="650.0" y2="1034.00" stroke="#000" stroke-width="1.50" stroke-linecap="round"/>
<line x1="60.8" y1="980.60" x2="684.2" y2="980.60" stroke="#f00" stroke-width="1.5"/>
</g>
<line x1="274.7" y1="155.90" x2="286.2" y2="147.70" stroke="#000" stroke-width="0.6"/>
<text x="286.2" y="145.40" text-anchor="middle" font-family="Liberation Sans, sans-serif" font-size="17.5" fill="#000">B*40:06</text>
<line x1="499.8" y1="85.50" x2="511.3" y2="77.30" stroke="#000" stroke-width="0.6"/>
<text x="511.3" y="75.00" text-anchor="middle" font-family="Liberation Sans, sans-serif" font-size="17.5" fill="#000">DQB1*03:03</text>
<line x1="274.7" y1="552.10" x2="286.2" y2="543.90" stroke="#000" stroke-width="0.6"/>
<text x="286.2" y="541.60" text-anchor="middle" font-family="Liberation Sans, sans-serif" font-size="17.5" fill="#000">B*40:06</text>
</svg>
</body></html>
